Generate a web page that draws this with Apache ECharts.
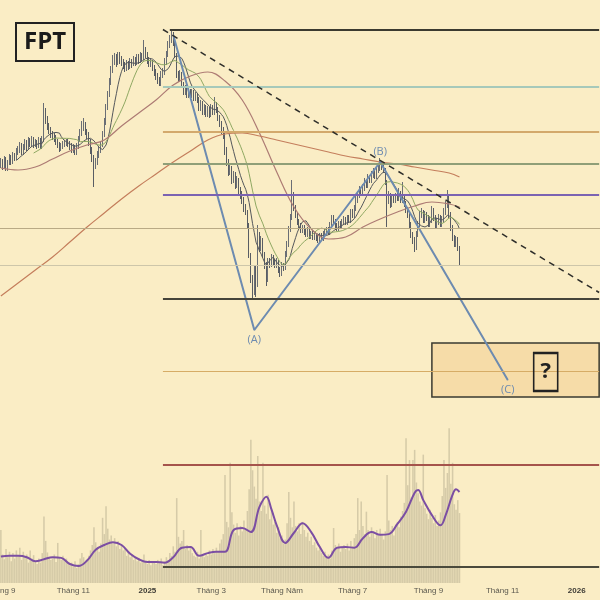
<!DOCTYPE html>
<html>
<head>
<meta charset="utf-8">
<script src="https://cdn.jsdelivr.net/npm/echarts@6/dist/echarts.min.js"></script>
<style>
    html, body { margin: 0; padding: 0; background: #faedc5; }
    #main { width: 600px; height: 600px; }
</style>
</head>
<body>
<div id="main"></div>
<script>
    // trading days shown on the axis (weekdays minus exchange holidays)
    const startDate = '2024-09-04'
    const endDate = '2026-01-20'
    const holidays = ['2025-01-01', '2025-01-27', '2025-01-28', '2025-01-29', '2025-01-30', '2025-01-31',
        '2025-04-07', '2025-04-30', '2025-05-01', '2025-05-02', '2025-09-01', '2025-09-02']
    const monthLabels = {3: 'Tháng 3', 5: 'Tháng Năm', 7: 'Tháng 7', 9: 'Tháng 9', 11: 'Tháng 11'}

    // daily prices (nghìn đồng), open = previous close
    const firstOpen = 131.0
    const closes = [
        131.6,130.8,132.0,130.4,131.4,132.4,131.6,132.8,132.4,133.6,
        134.0,134.8,133.6,134.6,135.4,134.4,135.8,135.2,136.0,135.0,
        135.4,135.0,135.8,134.8,136.0,141.6,140.0,138.8,138.0,137.2,
        136.8,136.4,135.6,135.0,134.4,134.8,135.0,135.4,135.6,135.2,
        134.8,134.0,134.4,133.6,134.8,136.0,137.4,138.4,139.0,137.6,
        137.0,135.6,134.0,132.4,131.0,131.6,133.0,134.0,135.0,137.0,
        139.6,142.4,145.0,147.6,150.0,152.0,152.4,151.6,152.8,152.0,
        151.6,151.0,150.4,151.2,150.8,151.6,151.2,152.0,151.6,152.4,
        152.0,152.8,152.4,154.0,153.0,152.0,151.2,151.6,150.4,149.6,
        148.8,148.0,147.4,149.0,149.6,151.6,153.0,155.0,156.0,156.8,
        155.6,153.0,149.0,148.4,149.2,147.0,145.6,146.4,145.0,145.6,
        145.0,145.4,144.4,144.8,144.0,142.4,143.2,141.6,142.4,141.2,
        142.0,141.0,142.4,141.6,143.0,142.0,140.4,139.2,138.0,137.0,
        134.0,131.6,129.6,130.4,128.0,129.0,127.0,128.0,126.0,125.0,
        124.0,122.4,121.6,119.0,113.0,108.0,105.6,110.0,107.0,117.0,
        114.4,116.0,113.0,111.0,108.0,111.6,111.0,112.4,111.6,111.0,
        111.6,110.0,109.2,110.8,110.4,113.0,115.0,118.0,120.4,125.0,
        122.4,121.0,119.6,118.8,118.0,118.4,117.6,117.2,118.0,116.8,
        117.2,116.6,117.0,116.4,116.0,116.8,116.4,117.2,117.6,118.0,
        117.6,119.0,120.4,119.6,118.8,118.4,119.2,118.8,119.6,120.0,
        119.6,120.4,120.0,121.6,121.0,122.4,124.0,125.0,126.0,125.6,
        126.4,127.6,127.0,128.4,128.0,129.0,129.6,128.8,130.0,130.4,
        131.2,130.8,130.0,127.6,124.0,125.0,123.0,124.4,124.0,124.8,
        124.4,125.2,124.0,124.8,123.2,122.0,121.0,119.0,117.0,116.0,
        114.4,117.0,119.0,121.0,121.6,120.0,121.0,120.4,119.2,120.0,
        122.0,120.4,119.0,119.6,120.4,119.2,120.0,121.6,123.0,124.4,
        121.0,118.4,116.4,115.2,116.0,114.4,111.6
    ]
    const highs = [
        132.4,132.2,132.8,132.6,132.0,133.2,133.0,133.6,133.4,134.4,
        134.8,135.6,135.4,135.2,136.2,136.0,136.6,136.4,136.8,136.6,
        136.2,136.0,136.6,136.4,136.8,143.4,142.4,140.8,139.4,138.6,
        137.8,137.4,137.0,136.2,135.6,135.4,135.8,136.0,136.2,136.2,
        135.8,135.4,135.2,135.0,135.4,136.8,138.2,139.8,140.4,139.6,
        138.2,137.6,136.2,134.6,133.0,132.4,133.8,134.8,135.8,137.8,
        140.4,143.2,145.8,148.4,150.8,153.0,153.4,153.2,153.6,153.6,
        152.8,152.2,151.6,152.0,151.8,152.4,152.2,152.8,152.6,153.2,
        153.2,153.6,153.4,156.0,154.6,153.6,152.6,152.4,152.0,151.0,
        150.2,149.4,148.6,149.8,150.4,152.4,153.8,155.8,157.0,158.0,
        157.6,156.0,153.4,149.8,150.0,149.6,147.6,147.0,147.0,146.4,
        146.2,146.2,146.0,145.6,145.4,144.6,144.0,143.8,143.2,143.0,
        142.8,142.6,143.2,143.0,144.6,143.6,142.6,141.0,139.8,138.6,
        137.4,134.6,132.2,131.2,130.8,129.8,129.6,128.8,128.4,126.6,
        125.8,124.6,123.2,122.0,119.4,113.4,109.0,110.8,111.0,119.0,
        117.6,116.8,116.4,113.6,111.6,112.4,112.4,113.2,113.0,112.2,
        112.4,112.0,110.6,111.6,111.4,113.8,115.8,118.8,121.2,128.0,
        125.6,123.0,121.6,120.2,119.4,119.0,119.0,118.2,118.6,118.4,
        117.8,117.8,117.6,117.4,117.0,117.4,117.4,117.8,118.2,118.6,
        118.6,119.6,121.0,121.0,120.2,119.4,119.8,119.8,120.2,120.8,
        120.6,121.0,121.0,122.2,122.2,123.0,124.8,125.8,126.8,126.6,
        127.2,128.4,128.2,129.2,129.0,129.8,130.4,130.2,130.8,131.2,
        132.4,131.8,131.4,130.4,128.0,125.8,125.4,125.0,125.0,125.4,
        125.4,126.4,125.8,127.6,125.2,123.8,122.6,121.4,119.6,117.6,
        116.6,117.8,119.8,121.8,122.4,122.0,121.8,121.6,121.0,120.8,
        122.8,122.4,121.0,120.4,121.2,121.0,120.8,122.4,123.8,126.0,
        124.8,121.6,119.0,117.0,116.8,116.6,114.8
    ]
    const lows = [
        130.4,130.0,130.4,129.8,129.8,131.0,131.0,131.2,131.8,132.0,
        133.0,133.4,133.0,133.0,134.0,133.8,134.0,134.6,134.6,134.4,
        134.6,134.2,134.4,134.2,134.2,135.6,139.2,138.0,137.2,136.4,
        136.0,135.6,135.0,134.4,133.6,133.8,134.2,134.6,134.8,134.6,
        134.0,133.4,133.4,133.0,133.0,134.2,135.6,136.8,137.8,137.0,
        136.2,134.8,133.2,131.6,126.6,130.2,131.0,132.4,133.4,134.6,
        136.6,139.0,142.0,144.6,147.0,149.4,151.0,150.6,151.0,151.2,
        150.8,150.2,149.6,149.8,150.0,150.2,150.4,150.8,150.8,151.0,
        151.2,151.4,151.8,152.0,152.4,151.2,150.6,150.6,149.8,148.8,
        148.0,147.2,146.8,146.8,148.4,149.0,151.0,152.6,154.4,155.4,
        154.8,152.4,148.4,147.6,147.8,146.4,145.0,145.0,144.4,144.4,
        144.2,144.4,143.8,143.8,143.4,141.8,141.8,141.0,141.0,140.6,
        140.6,140.4,140.6,141.0,141.0,141.4,139.8,138.6,137.2,136.2,
        133.0,130.8,128.8,129.0,127.2,127.4,126.2,126.4,125.2,124.2,
        123.2,121.6,121.0,118.2,112.4,107.4,104.4,105.0,104.6,106.6,
        113.6,113.8,112.4,110.2,106.8,107.6,110.4,110.6,111.0,110.4,
        110.4,109.4,108.6,108.8,109.8,110.0,112.6,114.6,117.6,120.0,
        121.8,120.4,119.0,118.2,117.4,117.4,117.0,116.6,116.6,116.2,
        116.2,116.0,116.0,115.8,115.4,115.4,115.8,115.8,116.6,117.0,
        117.0,117.0,118.6,119.0,118.2,117.8,117.8,118.2,118.2,119.0,
        119.0,119.0,119.4,119.4,120.4,120.4,121.8,123.4,124.4,125.0,
        125.0,125.8,126.4,126.4,127.4,127.4,128.4,128.2,128.2,129.4,
        129.8,130.0,129.4,127.0,118.6,123.2,122.4,122.6,123.4,123.4,
        123.8,123.8,123.4,123.4,122.6,121.4,120.4,118.4,116.4,115.2,
        113.6,114.0,116.6,118.6,120.4,119.4,119.4,119.8,118.6,118.6,
        119.4,119.8,118.4,118.4,119.0,118.6,118.6,119.4,121.0,122.4,
        120.4,117.8,115.8,114.6,114.6,113.8,111.0
    ]
    // volume, million shares
    const volumes = [
        7.8,4.2,3.5,5.0,3.8,4.6,3.2,4.4,3.6,4.8,
        4.0,5.2,3.4,4.6,3.9,4.2,3.0,4.8,3.6,4.1,
        3.2,2.8,3.6,3.0,4.4,9.8,6.2,4.5,3.8,3.4,
        3.6,4.2,3.1,5.9,3.8,3.4,4.0,3.2,3.6,2.9,
        2.6,3.0,2.4,3.2,2.2,2.8,3.6,4.4,3.8,3.0,
        3.4,4.0,4.8,5.6,8.2,6.0,5.2,4.6,5.8,9.6,
        7.2,11.3,8.0,6.4,7.0,5.8,6.6,5.4,6.2,5.0,
        5.6,4.8,5.2,4.0,4.6,3.8,4.2,3.4,3.8,3.2,
        3.6,3.0,3.4,4.2,3.2,2.8,3.4,2.6,3.0,3.2,
        2.8,3.4,3.0,3.6,2.6,3.2,3.8,3.4,4.4,4.0,
        5.4,4.6,12.5,6.8,5.8,6.2,7.8,5.0,5.6,4.8,
        5.2,4.4,4.0,3.8,4.6,3.6,7.8,4.2,3.8,4.4,
        4.0,4.8,4.2,5.0,4.4,5.2,4.6,5.8,6.4,7.2,
        15.9,9.0,8.2,17.7,10.4,8.6,7.4,8.8,7.0,8.4,
        7.6,9.2,8.0,10.6,13.8,21.1,16.6,14.2,12.4,18.7,
        12.0,10.6,17.7,11.4,10.2,13.0,9.4,10.8,8.6,9.0,
        7.4,8.2,6.6,7.0,5.8,6.4,8.8,13.4,9.6,8.2,
        12.0,8.4,7.6,8.8,7.2,9.0,7.8,6.8,7.4,6.2,
        6.8,5.6,6.0,5.2,4.8,5.4,4.4,4.0,4.6,3.8,
        4.2,3.6,4.8,8.1,5.6,5.0,5.8,4.6,5.2,5.6,
        5.0,5.8,4.8,6.2,5.4,6.6,7.2,12.5,7.8,12.0,
        8.4,7.2,10.5,7.8,6.8,8.2,7.4,6.6,7.8,7.0,
        8.0,7.2,6.4,7.6,15.9,9.2,7.8,8.4,7.0,8.6,
        9.0,8.2,9.8,10.6,11.8,21.3,14.4,18.1,12.6,18.1,
        19.6,14.8,13.2,12.0,11.4,18.9,11.0,10.2,9.4,10.8,
        9.6,8.8,10.0,8.4,9.2,10.4,12.8,18.1,14.0,16.2,
        22.8,14.6,17.7,11.6,10.8,12.2,10.3
    ]

    // long moving averages at these bars
    const maIdx = [0,10,20,30,40,50,60,70,80,90,100,110,120,130,140,150,160,170,180,190,200,210,220,230,240,250,260,266]
    const ma50 = [130.4,130.0,130.6,132.2,133.8,135.0,136.0,138.8,141.4,144.0,147.0,148.8,149.6,147.8,144.0,137.4,129.6,122.6,118.2,116.2,116.6,118.6,120.2,121.6,122.8,123.6,123.2,122.6]
    const ma200 = [104.8,107.4,110.0,112.6,115.6,118.6,121.4,124.2,126.8,129.2,131.6,133.8,136.0,137.2,137.4,136.8,136.0,135.2,134.4,133.6,132.8,132.2,131.6,131.2,130.6,130.0,129.4,128.6]
    const volMaIdx = [0,5,10,15,20,25,30,35,40,45,50,55,60,65,70,75,80,85,90,95,100,105,110,115,120,125,130,135,140,145,
        150,154,157,160,165,170,175,180,185,190,195,200,205,210,215,220,225,230,235,240,242,245,250,255,258,262,264,266]
    const volMa = [3.9,4.0,4.0,3.8,3.2,3.5,3.8,3.7,2.8,2.5, 3.3,4.9,5.6,6.0,5.6,4.3,3.5,3.1,3.1,3.0,
        3.8,5.2,5.3,4.0,4.4,4.6,4.6,7.8,8.1,7.5, 11.2,12.7,10.8,8.5,5.9,7.4,8.8,7.5,5.3,3.7,
        5.2,5.3,5.2,6.6,7.5,7.1,7.2,8.7,10.5,13.3, 13.7,12.2,10.0,8.5,10.0,13.0,13.8,13.4]

    // drawings
    const fibStart = [98, 94, 94, 94, 94, 94, 94]
    const fibPrices = [158.1, 146.7, 137.7, 131.2, 125.0, 104.3, 89.7]
    const fullLevels = [118.3, 111.0]
    const waveIdx = [100, 147, 220, 294]
    const wavePrices = [157.0, 98.0, 131.6, 88.0]
    const waveNames = ['', '(A)', '(B)', '(C)']
    const trendIdx = [94, 347]
    const trendPrices = [158.1, 105.5]
    const boxIdx = [250, 347]
    const boxPrices = [95.4, 84.6]
    const markIdx = 316
    const markPrice = 89.6
    const volLevels = [17.4, 2.36]
    const volLevelStart = 94

    const fibColors = ['#3b3a30', '#a6c9ba', '#d3a96c', '#8f9f78', '#7b63b2', '#45443a', '#d6ac66']
    const fibWidths = [2, 2, 2, 2, 2, 2, 1]
    const fullColors = ['#b9aa85', '#cdc6aa']
    const volColors = ['#a5544c', '#4a4a3c']

    let categories = []
    for (let d = new Date(startDate + 'T00:00:00Z'); d <= new Date(endDate + 'T00:00:00Z'); d.setUTCDate(d.getUTCDate() + 1)) {
        let s = d.toISOString().slice(0, 10)
        let wd = d.getUTCDay()
        if (wd === 0 || wd === 6 || holidays.includes(s)) continue
        categories.push(s)
    }
    // first trading day of odd months gets a label
    let tickAt = {}
    categories.forEach((c, i) => {
        let m = +c.slice(5, 7)
        if ((i === 0 || categories[i - 1].slice(5, 7) !== c.slice(5, 7)) && m % 2 === 1) {
            tickAt[i] = m === 1 ? '{y|' + c.slice(0, 4) + '}' : monthLabels[m]
        }
    })

    let candles = closes.map((c, i) => [i ? closes[i - 1] : firstOpen, c, lows[i], highs[i]])
    let movingAvg = n => closes.map((c, i) => {
        if (i < n - 1) return '-'
        let s = 0
        for (let k = i - n + 1; k <= i; k++) s += closes[k]
        return +(s / n).toFixed(2)
    })
    let pairs = (idx, vals) => idx.map((k, i) => [categories[k], vals[i]])

    let fibLines = fibPrices.map((p, i) => [
        {coord: [categories[fibStart[i]], p], lineStyle: {color: fibColors[i], width: fibWidths[i], type: 'solid'}},
        {coord: [categories[categories.length - 1], p]}
    ])
    let fullLines = fullLevels.map((p, i) => ({yAxis: p, lineStyle: {color: fullColors[i], width: 1, type: 'solid'}}))
    let trendLine = [
        {coord: [categories[trendIdx[0]], trendPrices[0]], lineStyle: {color: '#2e2e2a', width: 1.5, type: [6, 5]}},
        {coord: [categories[trendIdx[1]], trendPrices[1]]}
    ]
    let volLines = volLevels.map((v, i) => [
        {coord: [categories[volLevelStart], v], lineStyle: {color: volColors[i], width: 2, type: 'solid'}},
        {coord: [categories[categories.length - 1], v]}
    ])

    let waveData = waveIdx.map((k, i) => ({
        value: [categories[k], wavePrices[i]],
        label: {show: !!waveNames[i], formatter: waveNames[i], position: i === 2 ? 'top' : 'bottom', distance: 4}
    }))

    let chart = echarts.init(document.getElementById('main'))
    chart.setOption({
        animation: false,
        backgroundColor: '#faedc5',
        title: {
            text: 'FPT', left: 16, top: 23, padding: [7, 8, 7, 8],
            borderColor: '#222', borderWidth: 2,
            textStyle: {fontSize: 24, fontWeight: 'bold', color: '#1b1b1b', fontFamily: 'Open Sans'}
        },
        grid: [
            {left: 0, right: 0, top: 0, bottom: 17, outerBoundsMode: 'none', containLabel: false},
            {left: 0, right: 0, top: 420, bottom: 17, outerBoundsMode: 'none', containLabel: false}
        ],
        xAxis: [
            {type: 'category', data: categories, gridIndex: 0, boundaryGap: true, show: false},
            {
                type: 'category', data: categories, gridIndex: 1, boundaryGap: true,
                axisLine: {show: false}, axisTick: {show: false}, splitLine: {show: false},
                axisLabel: {
                    interval: i => tickAt[i] !== undefined,
                    formatter: (v, i) => tickAt[i] || '',
                    color: '#5a584e', fontSize: 8, fontFamily: 'Liberation Sans', margin: 4,
                    rich: {y: {fontWeight: 'bold', fontSize: 8, color: '#3e3c36', fontFamily: 'Liberation Sans'}}
                }
            }
        ],
        yAxis: [
            {type: 'value', gridIndex: 0, min: 47.4, max: 164, show: false, splitLine: {show: false}},
            {type: 'value', gridIndex: 1, min: 0, max: 24, show: false, splitLine: {show: false}}
        ],
        series: [
            {
                name: 'Khối lượng', type: 'bar', xAxisIndex: 1, yAxisIndex: 1,
                data: volumes, barCategoryGap: '10%',
                itemStyle: {color: '#d6cba8'},
                markLine: {symbol: ['none', 'none'], silent: true, label: {show: false}, data: volLines}
            },
            {
                name: 'KL MA', type: 'line', xAxisIndex: 1, yAxisIndex: 1,
                data: pairs(volMaIdx, volMa), smooth: 0.4, showSymbol: false,
                lineStyle: {color: '#7b4ea3', width: 2}
            },
            {
                name: 'FPT', type: 'candlestick', xAxisIndex: 0, yAxisIndex: 0,
                data: candles,
                itemStyle: {color: '#d5d1c1', color0: '#595d64', borderColor: '#6a6e75', borderColor0: '#595d64', borderWidth: 1},
                markLine: {
                    symbol: ['none', 'none'], silent: true, label: {show: false},
                    data: [...fibLines, ...fullLines, trendLine]
                },
                markArea: {
                    silent: true,
                    itemStyle: {color: 'rgba(240,198,128,0.42)', borderColor: '#3a3a30', borderWidth: 1.5},
                    data: [[{coord: [categories[boxIdx[0]], boxPrices[0]]}, {coord: [categories[boxIdx[1]], boxPrices[1]]}]]
                },
                markPoint: {
                    silent: true,
                    data: [{
                        coord: [categories[markIdx], markPrice], symbol: 'rect', symbolSize: [24, 38],
                        itemStyle: {color: 'rgba(0,0,0,0)', borderColor: '#222', borderWidth: 2},
                        label: {show: true, position: 'inside', formatter: '?', fontSize: 22, fontWeight: 'bold', color: '#222', fontFamily: 'Open Sans'}
                    }]
                }
            },
            {
                name: 'MA10', type: 'line', data: movingAvg(10), showSymbol: false,
                lineStyle: {color: '#55585c', width: 1}
            },
            {
                name: 'MA20', type: 'line', data: movingAvg(20), showSymbol: false,
                lineStyle: {color: '#8fa862', width: 1}
            },
            {
                name: 'MA50', type: 'line', data: pairs(maIdx, ma50), smooth: 0.4, showSymbol: false,
                lineStyle: {color: '#ad7b74', width: 1.2}
            },
            {
                name: 'MA200', type: 'line', data: pairs(maIdx, ma200), smooth: 0.4, showSymbol: false,
                lineStyle: {color: '#c47e5c', width: 1.2}
            },
            {
                name: 'Sóng', type: 'line', data: waveData,
                symbol: 'circle', symbolSize: 1, itemStyle: {color: '#6d8bb0'},
                lineStyle: {color: '#6d8bb0', width: 2},
                label: {color: '#6d8bb0', fontSize: 11, fontFamily: 'Open Sans'}
            }
        ]
    })
</script>
</body>
</html>
